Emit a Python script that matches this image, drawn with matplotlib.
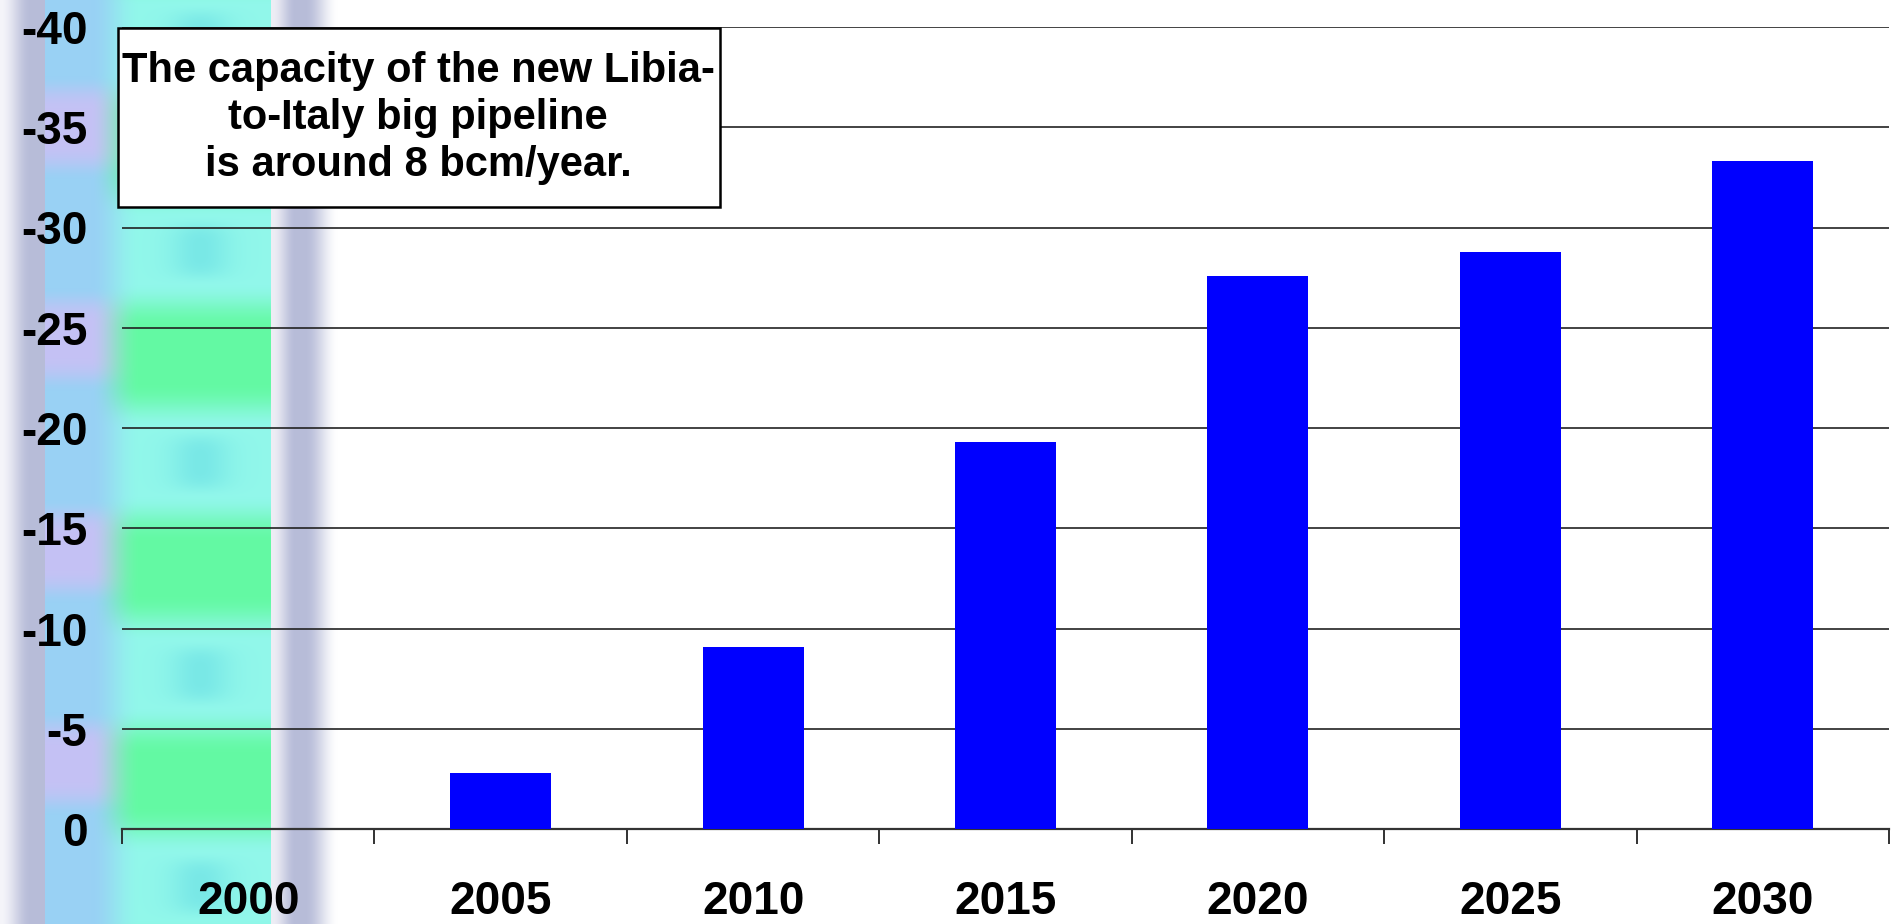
import numpy as np
import matplotlib.pyplot as plt
from matplotlib.patches import Rectangle

years = ["2000", "2005", "2010", "2015", "2020", "2025", "2030"]
balance = [0.0, -2.8, -9.1, -19.3, -27.6, -28.8, -33.3]
y_ticks = [0, -5, -10, -15, -20, -25, -30, -35, -40]
y_labels = ["0", "-5", "-10", "-15", "-20", "-25", "-30", "-35", "-40"]
note = "The capacity of the new Libia-\nto-Italy big pipeline\nis around 8 bcm/year."

W, H = 1902, 924
FONT = "Liberation Sans"


def smooth(a, lo, hi):
    t = np.clip((a - lo) / (hi - lo), 0, 1)
    return t * t * (3 - 2 * t)


def side_strip(h=924, w=340):
    # decorative slide background on the left edge
    yy, xx = np.mgrid[0:h, 0:w].astype(float)
    img = np.ones((h, w, 3))
    gray = np.array([0.72, 0.74, 0.85])
    # grey fade at the far left
    t = smooth(xx, 0, 30)[..., None]
    left = (1 - t) * np.array([0.96, 0.96, 0.98]) + t * gray
    # shadow right of the strip
    s = (smooth(xx, 272, 295) * (1 - smooth(xx, 305, 338)))[..., None]
    right = (1 - s) * np.array([0.93, 0.93, 0.96]) + s * gray
    right = np.where((xx > 305)[..., None], (1 - s) * np.ones(3) + s * gray, right)

    phase = 2 * np.pi * (yy - 356) / 212.0
    band = smooth(np.cos(phase), -0.6, 0.75)[..., None]
    aqua = np.array([0.57, 0.97, 0.92])
    green = np.array([0.39, 0.98, 0.64])
    teal = np.array([0.38, 0.85, 0.89])
    inner = (1 - band) * aqua + band * green
    spot = (np.exp(-((xx - 200) / 30.0) ** 2) * smooth(-np.cos(phase), 0.5, 1.0))[..., None]
    inner = (1 - 0.5 * spot) * inner + 0.5 * spot * teal
    blue = np.array([0.6, 0.82, 0.96])
    lav = np.array([0.77, 0.76, 0.96])
    lb = smooth(np.cos(phase + 0.5), 0.0, 0.9)[..., None]
    outer = (1 - lb) * blue + lb * lav
    m = smooth(xx, 90, 140)[..., None]
    strip = (1 - m) * outer + m * inner

    img = np.where((xx < 45)[..., None], left, img)
    img = np.where(((xx >= 45) & (xx < 271))[..., None], strip, img)
    img = np.where((xx >= 271)[..., None], right, img)
    return img


fig = plt.figure(figsize=(W / 100, H / 100), dpi=100)
fig.patch.set_facecolor("white")

bg = fig.add_axes([0, 0, 340 / W, 1], zorder=0)
bg.imshow(side_strip(), aspect="auto", extent=(0, 1, 0, 1), interpolation="bilinear")
bg.axis("off")

ax = fig.add_axes([122 / W, 1 - 829 / H, (1889 - 122) / W, (829 - 27) / H], zorder=1)
ax.set_facecolor("none")

x = np.arange(len(years))
ax.bar(x, balance, width=0.4, color="#0000ff", zorder=3)

ax.set_ylim(0, -40)
ax.set_xlim(-0.5, len(years) - 0.5)
ax.set_yticks(y_ticks)
ax.set_yticklabels(y_labels, fontfamily=FONT, fontweight="bold", fontsize=33)
ax.set_xticks(x)
ax.set_xticklabels(years, fontfamily=FONT, fontweight="bold", fontsize=33)
ax.set_xticks(np.arange(len(years) + 1) - 0.5, minor=True)
ax.tick_params(axis="y", length=0, pad=25)
ax.tick_params(axis="x", which="major", length=0, pad=37)
ax.tick_params(axis="x", which="minor", length=11, width=1.3, direction="out", color="#222222")

ax.grid(axis="y", color="#222222", linewidth=1.2, zorder=1)
for side in ["left", "right", "top"]:
    ax.spines[side].set_visible(False)
ax.spines["bottom"].set_linewidth(1.6)
ax.spines["bottom"].set_color("#333333")

box = Rectangle((118 / W, 1 - 207 / H), 602 / W, 179 / H, transform=fig.transFigure,
                facecolor="white", edgecolor="black", linewidth=1.8, zorder=5)
fig.add_artist(box)
txt = fig.text(418 / W, 1 - 118 / H, note, ha="center", va="center", multialignment="center",
               fontfamily=FONT, fontweight="bold", fontsize=30, linespacing=1.22, zorder=6)
txt.set_clip_path(box)

fig.savefig("out.png", dpi=100)
